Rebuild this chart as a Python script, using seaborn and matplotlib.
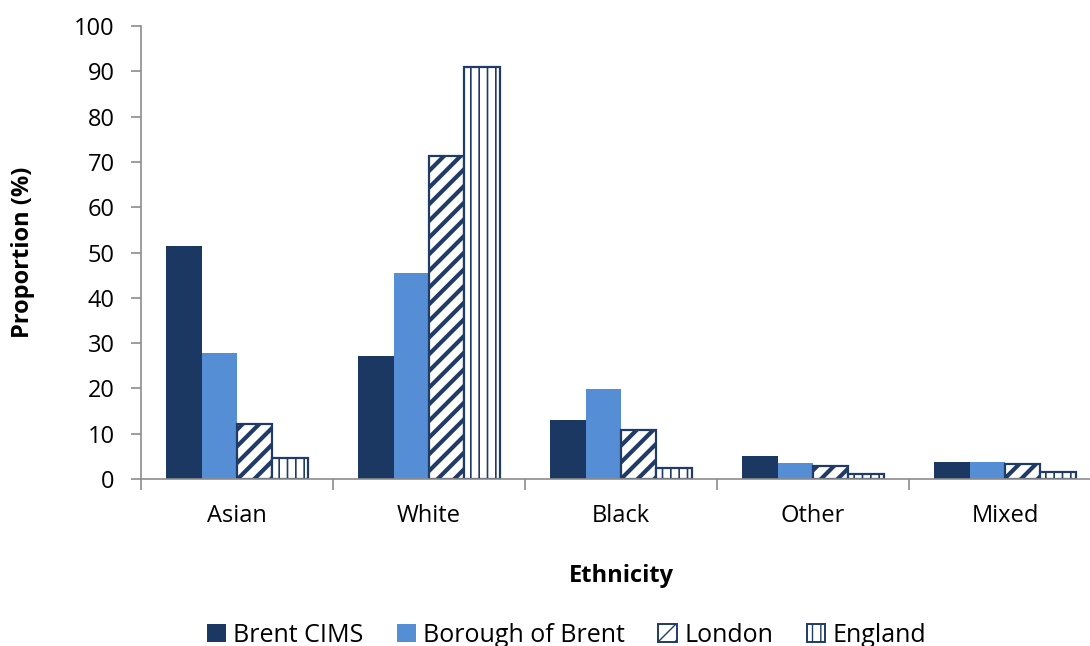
import numpy as np
import pandas as pd
import matplotlib
matplotlib.use("Agg")
import matplotlib.pyplot as plt
from matplotlib.patches import Patch
import seaborn as sns

# Ethnic composition (%) by population
categories = ["Asian", "White", "Black", "Other", "Mixed"]
series = ["Brent CIMS", "Borough of Brent", "London", "England"]
brent_cims = [51.4, 27.2, 13.0, 5.1, 3.8]
borough_of_brent = [27.8, 45.5, 19.9, 3.5, 3.8]
london = [12.1, 71.3, 10.8, 2.9, 3.3]
england = [4.6, 90.9, 2.4, 1.1, 1.5]
y_ticks = [0, 10, 20, 30, 40, 50, 60, 70, 80, 90, 100]

values = {"Brent CIMS": brent_cims, "Borough of Brent": borough_of_brent,
          "London": london, "England": england}
df = pd.DataFrame([
    {"Ethnicity": c, "Population": s, "Proportion": values[s][i]}
    for s in series for i, c in enumerate(categories)
])

navy = "#1b3862"
light = "#558ed5"
edge = "#1f3b66"
palette = {"Brent CIMS": navy, "Borough of Brent": light,
           "London": "white", "England": "white"}
hatches = {"Brent CIMS": None, "Borough of Brent": None,
           "London": "//", "England": "||"}
hatch_lw = {"London": 3.0, "England": 1.2}

sns.set_style("white")
plt.rcParams["font.family"] = ["Open Sans", "DejaVu Sans"]
plt.rcParams["text.color"] = "black"
plt.rcParams["axes.labelcolor"] = "black"
plt.rcParams["xtick.color"] = "black"
plt.rcParams["ytick.color"] = "black"

fig = plt.figure(figsize=(10.9, 6.46), dpi=100)
# plot area runs slightly past the right edge of the canvas
ax = fig.add_axes([141 / 1090, 1 - 479 / 646, 960 / 1090, (479 - 26) / 646])

sns.barplot(data=df, x="Ethnicity", y="Proportion", hue="Population",
            order=categories, hue_order=series, palette=palette,
            width=0.735, gap=0, saturation=1, legend=False, ax=ax)

for name, cont in zip(series, ax.containers):
    for bar in cont:
        if hatches[name]:
            bar.set_facecolor("white")
            bar.set_edgecolor(edge)
            bar.set_linewidth(1.6)
            bar.set_hatch(hatches[name])
            if hasattr(bar, "set_hatch_linewidth"):
                bar.set_hatch_linewidth(hatch_lw[name])
        else:
            bar.set_edgecolor("none")
            bar.set_linewidth(0)

ax.set_ylim(0, 100)
ax.set_xlim(-0.5, len(categories) - 0.5)
ax.set_yticks(y_ticks)
ax.tick_params(axis="y", which="major", length=7, width=1.2, color="#8c8c8c",
               labelcolor="black", labelsize=17, pad=12, left=True)
ax.set_xticks(range(len(categories)))
ax.set_xticklabels(categories)
ax.tick_params(axis="x", which="major", length=0, labelsize=17,
               labelcolor="black", pad=18)
ax.set_xticks(np.arange(-0.5, len(categories) + 0.5, 1), minor=True)
ax.tick_params(axis="x", which="minor", length=8, width=1.2, color="#8c8c8c",
               bottom=True)

for side in ["top", "right"]:
    ax.spines[side].set_visible(False)
for side in ["left", "bottom"]:
    ax.spines[side].set_color("#8c8c8c")
    ax.spines[side].set_linewidth(1.2)

ax.set_ylabel("Proportion (%)", fontsize=17, fontweight="bold", labelpad=28)
ax.set_xlabel("Ethnicity", fontsize=17, fontweight="bold", labelpad=26)

handles = []
for name in series:
    if hatches[name]:
        p = Patch(facecolor="white", edgecolor=edge, hatch=hatches[name], linewidth=1.4)
    else:
        p = Patch(facecolor=palette[name], edgecolor="none")
    handles.append(p)
leg = fig.legend(handles, series, loc="lower center", ncol=4, frameon=False,
                 fontsize=18, bbox_to_anchor=(0.52, -0.038), handlelength=0.75,
                 handleheight=0.75, handletextpad=0.3, columnspacing=1.33)

fig.savefig("out.png", dpi=100)
